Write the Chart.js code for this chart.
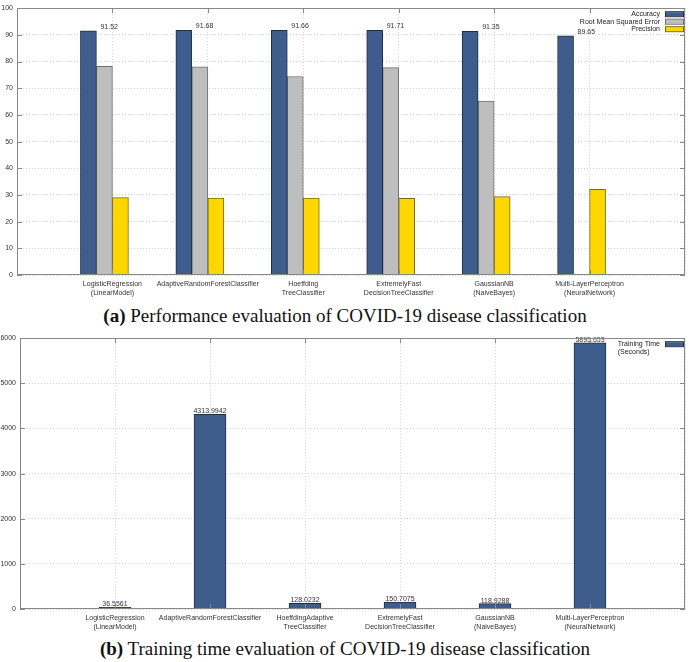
<!DOCTYPE html>
<html>
<head>
<meta charset="utf-8">
<script src="https://cdn.jsdelivr.net/npm/chart.js@4.4.1/dist/chart.umd.min.js"></script>
<style>
    body { margin: 0; background: #fff; width: 690px; }
    .box { position: relative; width: 690px; }
    .cap { width: 690px; text-align: center; font-family: "Liberation Serif", "DejaVu Serif", serif; font-size: 19px; color: #111; }
</style>
</head>
<body>
<div class="box" style="height:302px"><canvas id="perfChart"></canvas></div>
<div class="cap" style="height:28px;line-height:28px"><b>(a)</b> Performance evaluation of COVID-19 disease classification</div>
<div class="box" style="height:305px"><canvas id="timeChart"></canvas></div>
<div class="cap" style="height:27px;line-height:27px"><b>(b)</b> Training time evaluation of COVID-19 disease classification</div>

<script>
// categories (multi-line tick labels)
const perfCategories = [
    ['LogisticRegression', '(LinearModel)'],
    'AdaptiveRandomForestClassifier',
    ['Hoeffding', 'TreeClassifier'],
    ['ExtremelyFast', 'DecisionTreeClassifier'],
    ['GaussianNB', '(NaiveBayes)'],
    ['Multi-LayerPerceptron', '(NeuralNetwork)']
];
const timeCategories = [
    ['LogisticRegression', '(LinearModel)'],
    'AdaptiveRandomForestClassifier',
    ['HoeffdingAdaptive', 'TreeClassifier'],
    ['ExtremelyFast', 'DecisionTreeClassifier'],
    ['GaussianNB', '(NaiveBayes)'],
    ['Multi-LayerPerceptron', '(NeuralNetwork)']
];

// series values
const accuracy = [91.52, 91.68, 91.66, 91.71, 91.35, 89.65];
const rmse = [78.2, 78.0, 74.4, 77.7, 65.2, null];
const precision = [29.0, 28.8, 28.8, 28.7, 29.4, 32.1];
const trainingTime = [36.5561, 4313.9942, 128.0232, 150.7075, 118.9288, 5895.653];

// y axis ticks
const perfYTicks = { min: 0, max: 100, step: 10 };
const timeYTicks = { min: 0, max: 6000, step: 1000 };

const BLUE = '#3e5c8c';
const GRAY = '#bebebe';
const YELLOW = '#ffd700';
const FONT = 'Liberation Sans';

// gnuplot-ish x range: one empty slot on each side
const pad = arr => [null, ...arr, null];
const padLabels = arr => ['', ...arr, ''];

// frame + inward tick marks
const framePlugin = {
    id: 'frame',
    afterDraw(chart) {
        const { ctx, chartArea: a, scales } = chart;
        ctx.save();
        ctx.strokeStyle = '#888';
        ctx.lineWidth = 1;
        ctx.strokeRect(Math.round(a.left) + 0.5, Math.round(a.top) + 0.5,
            Math.round(a.right - a.left) - 1, Math.round(a.bottom - a.top) - 1);
        ctx.beginPath();
        scales.y.ticks.forEach(t => {
            const py = Math.round(scales.y.getPixelForValue(t.value)) + 0.5;
            ctx.moveTo(a.left, py); ctx.lineTo(a.left + 5, py);
            ctx.moveTo(a.right, py); ctx.lineTo(a.right - 5, py);
        });
        for (let i = 1; i < chart.data.labels.length - 1; i++) {
            const px = Math.round(scales.x.getPixelForValue(i)) + 0.5;
            ctx.moveTo(px, a.top); ctx.lineTo(px, a.top + 5);
            ctx.moveTo(px, a.bottom); ctx.lineTo(px, a.bottom - 5);
        }
        ctx.stroke();
        ctx.restore();
    }
};

// legend at top right, text before the swatch
const keyPlugin = {
    id: 'key',
    afterDraw(chart) {
        const { ctx, chartArea: a } = chart;
        ctx.save();
        ctx.font = '7px "' + FONT + '"';
        ctx.fillStyle = '#222';
        ctx.textBaseline = 'middle';
        let y = a.top + 6;
        chart.data.datasets.forEach(ds => {
            if (!ds.label) return;
            const lines = [].concat(ds.label);
            const w = Math.max(...lines.map(l => ctx.measureText(l).width));
            const tx = a.right - 25 - w;
            lines.forEach((l, k) => {
                ctx.textAlign = 'left';
                ctx.fillText(l, tx, y + k * 8);
            });
            ctx.fillStyle = ds.backgroundColor;
            ctx.fillRect(a.right - 20, y - 2, 18, 4);
            ctx.strokeStyle = ds.borderColor;
            ctx.strokeRect(a.right - 20 + 0.5, y - 2.5, 18, 5);
            ctx.fillStyle = '#222';
            y += 7.5 * lines.length;
        });
        ctx.restore();
    }
};

// numbers written above bars
const valuePlugin = {
    id: 'values',
    afterDatasetsDraw(chart, args, opts) {
        const { ctx } = chart;
        const meta = chart.getDatasetMeta(opts.dataset);
        const data = chart.data.datasets[opts.dataset].data;
        ctx.save();
        ctx.font = '7px "' + FONT + '"';
        ctx.fillStyle = '#333';
        ctx.textBaseline = 'alphabetic';
        meta.data.forEach((bar, i) => {
            if (data[i] == null) return;
            if (opts.side) {
                ctx.textAlign = 'left';
                ctx.fillText(String(data[i]), bar.x + bar.width / 2 + 4, bar.y - 2);
            } else {
                ctx.textAlign = 'center';
                ctx.fillText(String(data[i]), bar.x, bar.y - 1);
            }
        });
        ctx.restore();
    }
};

function xAxis(height) {
    return {
        offset: false,
        grid: { offset: false, color: '#d4d4d4', drawTicks: false },
        border: { display: false, dash: [1, 2] },
        ticks: {
            autoSkip: false, maxRotation: 0, padding: 5,
            color: '#333', font: { family: FONT, size: 7, lineHeight: 1.25 }
        },
        afterFit(scale) { scale.height = height; }
    };
}

function yAxis(t, width) {
    return {
        min: t.min, max: t.max,
        grid: { color: '#d4d4d4', drawTicks: false },
        border: { display: false, dash: [1, 2] },
        ticks: {
            stepSize: t.step, padding: 4, color: '#333', font: { family: FONT, size: 7 },
            callback: v => String(v)
        },
        afterFit(scale) { scale.width = width; }
    };
}

const ctx1 = document.getElementById('perfChart').getContext('2d');
const perfChart = new Chart(ctx1, {
    type: 'bar',
    data: {
        labels: padLabels(perfCategories),
        datasets: [
            { label: 'Accuracy', data: pad(accuracy), backgroundColor: BLUE, borderColor: '#1f2d45', borderWidth: 1, barThickness: 16 },
            { label: 'Root Mean Squared Error', data: pad(rmse), backgroundColor: GRAY, borderColor: '#6f6f6f', borderWidth: 1, barThickness: 16 },
            { label: 'Precision', data: pad(precision), backgroundColor: YELLOW, borderColor: '#7a6a10', borderWidth: 1, barThickness: 16 },
            // empty gap slot of the gnuplot cluster
            { label: '', data: [], barThickness: 16 }
        ]
    },
    options: {
        responsive: true,
        maintainAspectRatio: false,
        animation: false,
        layout: { padding: { top: 4, right: 5, left: 0, bottom: 0 } },
        scales: { x: xAxis(27), y: yAxis(perfYTicks, 17) },
        plugins: {
            legend: { display: false },
            tooltip: { enabled: false },
            values: { dataset: 0, side: true }
        }
    },
    plugins: [framePlugin, keyPlugin, valuePlugin]
});

const ctx2 = document.getElementById('timeChart').getContext('2d');
const timeChart = new Chart(ctx2, {
    type: 'bar',
    data: {
        labels: padLabels(timeCategories),
        datasets: [
            { label: ['Training Time', '(Seconds)'], data: pad(trainingTime), backgroundColor: BLUE, borderColor: '#1f2d45', borderWidth: 1, barThickness: 32 }
        ]
    },
    options: {
        responsive: true,
        maintainAspectRatio: false,
        animation: false,
        layout: { padding: { top: 7, right: 5, left: 0, bottom: 0 } },
        scales: { x: xAxis(26), y: yAxis(timeYTicks, 20) },
        plugins: {
            legend: { display: false },
            tooltip: { enabled: false },
            values: { dataset: 0, side: false }
        }
    },
    plugins: [framePlugin, keyPlugin, valuePlugin]
});
</script>
</body>
</html>
